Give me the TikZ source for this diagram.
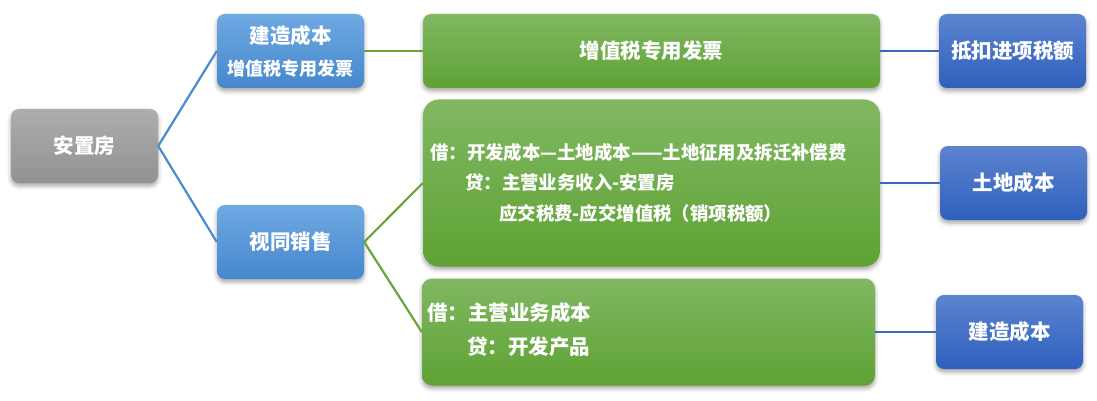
\documentclass[tikz,border=0pt]{standalone}
\usepackage{fontspec}
\setmainfont{Noto Sans CJK SC}
\usetikzlibrary{shadows.blur}
\definecolor{grayT}{HTML}{ADADAD}
\definecolor{grayB}{HTML}{929292}
\definecolor{blueT}{HTML}{6EA9E2}
\definecolor{blueB}{HTML}{4687CC}
\definecolor{greenT}{HTML}{80B862}
\definecolor{greenB}{HTML}{5FA234}
\definecolor{dblueT}{HTML}{5C84D0}
\definecolor{dblueB}{HTML}{2E60BD}
\definecolor{lineBlue}{HTML}{4A8AD0}
\definecolor{lineGreen}{HTML}{6AA63E}
\definecolor{lineDBlue}{HTML}{3A68C0}
\tikzset{
  x=1pt, y=-1pt,
  box/.style={rounded corners=8pt, text=white, font=\bfseries\fontsize{20.5}{24}\selectfont,
    align=center, inner sep=0pt,
    blur shadow={shadow xshift=0pt, shadow yshift=-3pt, shadow blur radius=4pt, shadow opacity=35}},
  graybox/.style={box, top color=grayT, bottom color=grayB},
  bluebox/.style={box, top color=blueT, bottom color=blueB},
  greenbox/.style={box, top color=greenT, bottom color=greenB},
  dbluebox/.style={box, top color=dblueT, bottom color=dblueB},
  small/.style={minimum width=147pt, minimum height=74pt},
  txt/.style={anchor=west, inner sep=0pt, text=white, font=\bfseries\fontsize{18.4}{22}\selectfont},
  txtb/.style={anchor=west, inner sep=0pt, text=white, font=\bfseries\fontsize{20.5}{24}\selectfont},
  lb/.style={draw=lineBlue, line width=2.2pt},
  lg/.style={draw=lineGreen, line width=2.2pt},
  ld/.style={draw=lineDBlue, line width=2.2pt},
}
\begin{document}
\begin{tikzpicture}
\useasboundingbox (0,0) rectangle (1097,401);
\node[graybox, small] (anzhi) at (84.5,146) {安置房};
\node[bluebox, small] (jz1) at (290.5,51) {建造成本\\[8pt]{\fontsize{18}{20}\selectfont 增值税专用发票}};
\node[bluebox, small] (sts) at (290.5,242) {视同销售};
\node[greenbox, minimum width=457pt, minimum height=74pt] (g1) at (651.5,51) {增值税专用发票};
\node[greenbox, rounded corners=16pt, minimum width=457pt, minimum height=167pt] (g2) at (651.5,183) {};
\node[greenbox, rounded corners=10pt, minimum width=453pt, minimum height=107pt] (g3) at (648.5,332) {};
\node[dbluebox, small] (r1) at (1012.5,51) {抵扣进项税额};
\node[dbluebox, small] (r2) at (1013.5,183) {土地成本};
\node[dbluebox, small] (r3) at (1009.5,332) {建造成本};

\node[txt] (t1) at (430,152) {借：开发成本—土地成本——土地征用及拆迁补偿费};
\node[txt] (t2) at (465,183) {贷：主营业务收入-安置房};
\node[txt] (t3) at (499,213) {应交税费-应交增值税（销项税额）};
\node[txtb] (t4) at (427,313) {借：主营业务成本};
\node[txtb] (t5) at (467,347) {贷：开发产品};

\draw[lb] (anzhi.east) -- (jz1.west);
\draw[lb] (anzhi.east) -- (sts.west);
\draw[lg] (jz1.east) -- (g1.west);
\draw[lg] (sts.east) -- (g2.west);
\draw[lg] (sts.east) -- (g3.west);
\draw[ld] (g1.east) -- (r1.west);
\draw[ld] (g2.east) -- (r2.west);
\draw[ld] (g3.east) -- (r3.west);
\end{tikzpicture}
\end{document}
